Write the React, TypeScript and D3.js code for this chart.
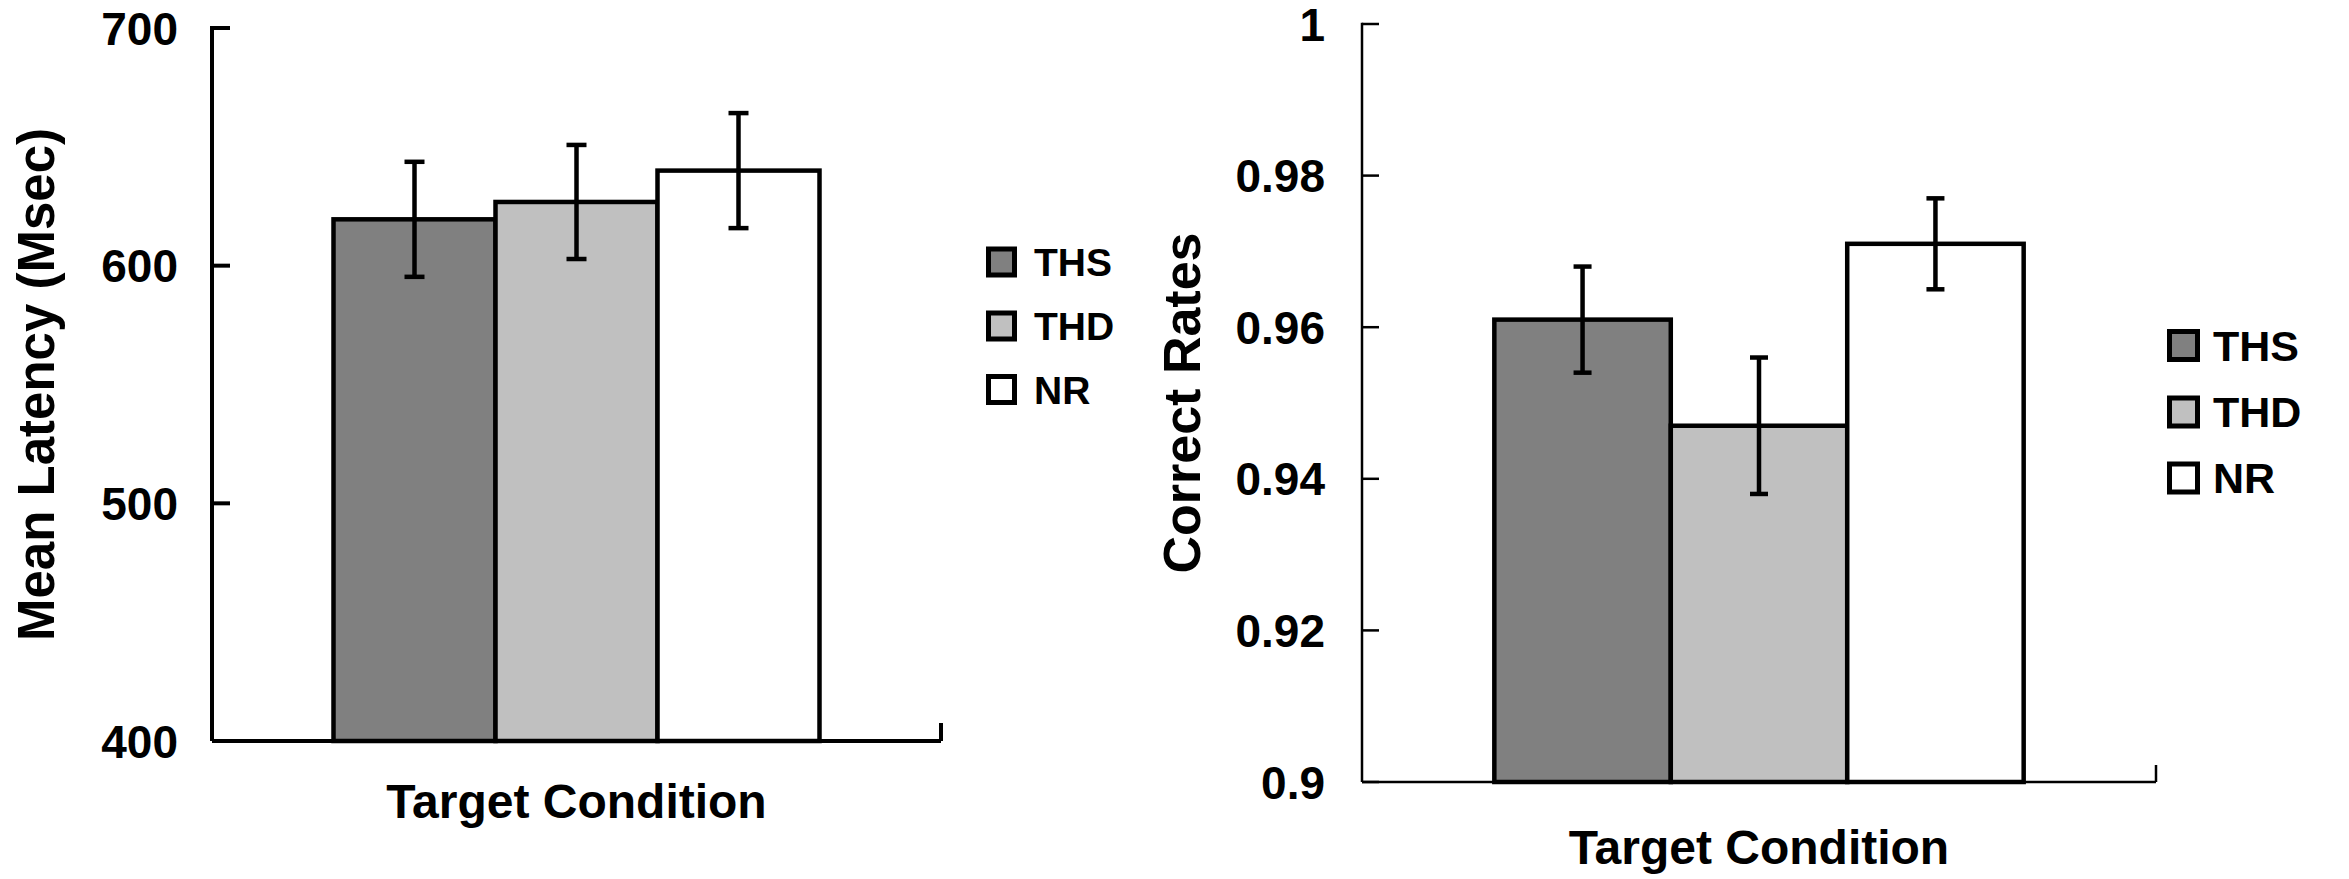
import React, { useEffect } from "react";
import * as d3 from "d3";

const seriesNames = ["THS", "THD", "NR"];
const seriesColors = ["#808080", "#c0c0c0", "#ffffff"];
const categories = ["Target Condition"];

const latencyMeans = [619.5, 626.8, 640];
const latencyErrors = [24.2, 24.0, 24.2];
const latencyTicks = [400, 500, 600, 700];

const accuracyMeans = [0.961, 0.947, 0.971];
const accuracyErrors = [0.007, 0.009, 0.006];
const accuracyTicks = [0.9, 0.92, 0.94, 0.96, 0.98, 1];

const FONT = "'Liberation Sans', Arial, Helvetica, sans-serif";

type PanelProps = {
  means: number[];
  errors: number[];
  ticks: number[];
  domain: [number, number];
  x0: number;
  x1: number;
  yTop: number;
  yBot: number;
  labelRight: number;
  labelFont: number;
  axisStroke: number;
  barStroke: number;
  tickLen: number;
  yTitle: string;
  yTitleX: number;
  yTitleFont: number;
  xTitleY: number;
  xTitleFont: number;
  legendX: number;
  legendBox: number;
  legendYs: number[];
  legendTextX: number;
  legendFont: number;
  capW: number;
  fmt: (v: number) => string;
};

function Panel(p: PanelProps) {
  const y = d3.scaleLinear().domain(p.domain).range([p.yBot, p.yTop]);
  const xOuter = d3
    .scaleBand<string>()
    .domain(categories)
    .range([p.x0, p.x1])
    .paddingInner(0)
    .paddingOuter(0.25);
  const xInner = d3
    .scaleBand<string>()
    .domain(seriesNames)
    .range([0, xOuter.bandwidth()])
    .padding(0);
  const base = p.domain[0];
  const cx = (p.x0 + p.x1) / 2;
  const cy = (p.yTop + p.yBot) / 2;
  return (
    <g>
      {categories.map((c) => (
        <g key={c} transform={`translate(${xOuter(c)},0)`}>
          {seriesNames.map((s, i) => (
            <rect
              key={s}
              x={xInner(s)}
              y={y(p.means[i])}
              width={xInner.bandwidth()}
              height={y(base) - y(p.means[i])}
              fill={seriesColors[i]}
              stroke="#000"
              strokeWidth={p.barStroke}
            />
          ))}
          {seriesNames.map((s, i) => {
            const ex = (xInner(s) as number) + xInner.bandwidth() / 2;
            const hi = y(p.means[i] + p.errors[i]);
            const lo = y(p.means[i] - p.errors[i]);
            return (
              <g key={"e" + s} stroke="#000" strokeWidth={p.barStroke}>
                <line x1={ex} x2={ex} y1={hi} y2={lo} />
                <line x1={ex - p.capW / 2} x2={ex + p.capW / 2} y1={hi} y2={hi} />
                <line x1={ex - p.capW / 2} x2={ex + p.capW / 2} y1={lo} y2={lo} />
              </g>
            );
          })}
        </g>
      ))}
      <g stroke="#000" strokeWidth={p.axisStroke} fill="none">
        <line x1={p.x0} x2={p.x0} y1={p.yTop - p.axisStroke / 2} y2={p.yBot} />
        <line x1={p.x0} x2={p.x1} y1={p.yBot} y2={p.yBot} />
        <line x1={p.x1} x2={p.x1} y1={p.yBot} y2={p.yBot - p.tickLen} />
        {p.ticks.map((t) => (
          <line key={t} x1={p.x0} x2={p.x0 + p.tickLen} y1={y(t)} y2={y(t)} />
        ))}
      </g>
      {p.ticks.map((t) => (
        <text
          key={"l" + t}
          x={p.labelRight}
          y={y(t)}
          dy="0.36em"
          textAnchor="end"
          fontFamily={FONT}
          fontWeight="bold"
          fontSize={p.labelFont}
        >
          {p.fmt(t)}
        </text>
      ))}
      <text
        transform={`translate(${p.yTitleX},${cy}) rotate(-90)`}
        textAnchor="middle"
        fontFamily={FONT}
        fontWeight="bold"
        fontSize={p.yTitleFont}
      >
        {p.yTitle}
      </text>
      <text
        x={cx}
        y={p.xTitleY}
        textAnchor="middle"
        fontFamily={FONT}
        fontWeight="bold"
        fontSize={p.xTitleFont}
      >
        {categories[0]}
      </text>
      {seriesNames.map((s, i) => (
        <g key={"lg" + s}>
          <rect
            x={p.legendX + 2.5}
            y={p.legendYs[i] - p.legendBox / 2 + 2.5}
            width={p.legendBox - 5}
            height={p.legendBox - 5}
            fill={seriesColors[i]}
            stroke="#000"
            strokeWidth={5}
          />
          <text
            x={p.legendTextX}
            y={p.legendYs[i]}
            dy="0.36em"
            fontFamily={FONT}
            fontWeight="bold"
            fontSize={p.legendFont}
          >
            {s}
          </text>
        </g>
      ))}
    </g>
  );
}

export default function App() {
  useEffect(() => {
    document.body.style.margin = "0";
  }, []);
  return (
    <svg
      width={2349}
      height={879}
      viewBox="0 0 2349 879"
      style={{ display: "block", background: "#fff" }}
    >
      <rect width={2349} height={879} fill="#fff" />
      <Panel
        means={latencyMeans}
        errors={latencyErrors}
        ticks={latencyTicks}
        domain={[400, 700]}
        x0={212}
        x1={941}
        yTop={28}
        yBot={741}
        labelRight={178}
        labelFont={46}
        axisStroke={4}
        barStroke={4.5}
        tickLen={18}
        yTitle="Mean Latency (Msec)"
        yTitleX={54}
        yTitleFont={51}
        xTitleY={818}
        xTitleFont={48}
        legendX={986}
        legendBox={31}
        legendYs={[262, 326, 389.5]}
        legendTextX={1034}
        legendFont={39}
        capW={20}
        fmt={(v) => String(v)}
      />
      <Panel
        means={accuracyMeans}
        errors={accuracyErrors}
        ticks={accuracyTicks}
        domain={[0.9, 1]}
        x0={1362}
        x1={2156}
        yTop={24}
        yBot={782}
        labelRight={1325}
        labelFont={46}
        axisStroke={2.5}
        barStroke={4.5}
        tickLen={17}
        yTitle="Correct Rates"
        yTitleX={1200}
        yTitleFont={52}
        xTitleY={864}
        xTitleFont={48}
        legendX={2167}
        legendBox={33}
        legendYs={[345.5, 412, 478]}
        legendTextX={2213}
        legendFont={43}
        capW={18}
        fmt={(v) => String(+v.toFixed(2))}
      />
    </svg>
  );
}
